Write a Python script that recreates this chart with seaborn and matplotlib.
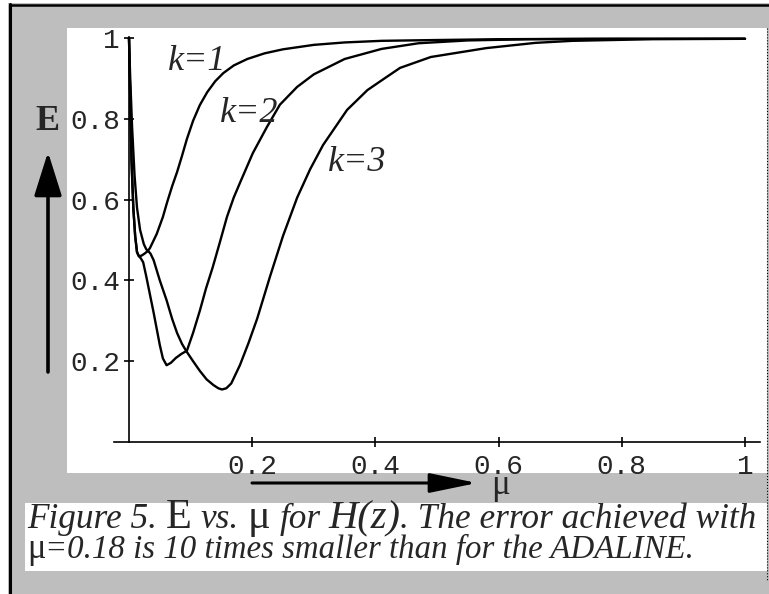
import numpy as np
import pandas as pd
import matplotlib
matplotlib.use('Agg')
import matplotlib.pyplot as plt
import seaborn as sns
from matplotlib.patches import Rectangle
from matplotlib.lines import Line2D

# error E against step size mu
mu_k1 = [0.0, 0.002, 0.004, 0.007, 0.010, 0.013, 0.016, 0.020, 0.025, 0.030, 0.034, 0.045,
         0.055, 0.062, 0.070, 0.078, 0.086, 0.094, 0.104, 0.115, 0.127, 0.140, 0.153, 0.170,
         0.192, 0.22, 0.25, 0.30, 0.35, 0.41, 0.50, 0.60, 0.75, 1.0]
E_k1 = [1.0, 0.85, 0.70, 0.58, 0.51, 0.47, 0.46, 0.461, 0.466, 0.472, 0.48, 0.515,
        0.557, 0.594, 0.633, 0.668, 0.708, 0.75, 0.795, 0.834, 0.866, 0.893, 0.913, 0.932,
        0.948, 0.962, 0.972, 0.983, 0.989, 0.993, 0.995, 0.997, 0.998, 0.998]

mu_k2 = [0.0, 0.002, 0.004, 0.007, 0.010, 0.013, 0.016, 0.019, 0.023, 0.028, 0.034, 0.040,
         0.045, 0.050, 0.055, 0.061, 0.068, 0.076, 0.085, 0.094, 0.104, 0.115, 0.125, 0.136,
         0.148, 0.159, 0.170, 0.180, 0.201, 0.224, 0.245, 0.273, 0.30, 0.35, 0.41, 0.47,
         0.55, 0.65, 0.80, 1.0]
E_k2 = [1.0, 0.85, 0.70, 0.58, 0.51, 0.47, 0.46, 0.455, 0.445, 0.41, 0.365, 0.32,
        0.28, 0.24, 0.207, 0.19, 0.196, 0.208, 0.218, 0.226, 0.27, 0.325, 0.38, 0.433,
        0.497, 0.557, 0.605, 0.641, 0.715, 0.780, 0.835, 0.879, 0.91, 0.948, 0.973, 0.987,
        0.994, 0.997, 0.998, 0.998]

mu_k3 = [0.0, 0.002, 0.005, 0.009, 0.013, 0.018, 0.024, 0.028, 0.031, 0.035, 0.040, 0.050,
         0.061, 0.070, 0.078, 0.086, 0.093, 0.104, 0.115, 0.126, 0.137, 0.145, 0.151, 0.158,
         0.166, 0.180, 0.194, 0.208, 0.229, 0.250, 0.273, 0.294, 0.315, 0.354, 0.387, 0.41,
         0.44, 0.49, 0.58, 0.66, 0.72, 0.85, 1.0]
E_k3 = [1.0, 0.90, 0.78, 0.66, 0.58, 0.525, 0.49, 0.477, 0.473, 0.466, 0.45, 0.40,
        0.351, 0.305, 0.27, 0.243, 0.225, 0.20, 0.176, 0.155, 0.141, 0.133, 0.130, 0.133,
        0.145, 0.19, 0.245, 0.305, 0.41, 0.51, 0.605, 0.675, 0.735, 0.822, 0.871, 0.895,
        0.926, 0.953, 0.975, 0.988, 0.993, 0.997, 0.998]

tick_vals = [0.2, 0.4, 0.6, 0.8, 1.0]
tick_labels = ['0.2', '0.4', '0.6', '0.8', '1']

df = pd.concat([
    pd.DataFrame({'mu': mu_k1, 'E': E_k1, 'k': 'k=1'}),
    pd.DataFrame({'mu': mu_k2, 'E': E_k2, 'k': 'k=2'}),
    pd.DataFrame({'mu': mu_k3, 'E': E_k3, 'k': 'k=3'}),
])

W, H = 769, 594
sns.set_style('white')
fig = plt.figure(figsize=(W / 100, H / 100), dpi=100, facecolor='#bebebe')


def box(x, y, w, h, color):
    # rectangle in pixel coords measured from the top-left corner
    fig.add_artist(Rectangle((x / W, 1 - (y + h) / H), w / W, h / H, transform=fig.transFigure,
                             facecolor=color, edgecolor='none', zorder=-5))


def vline(x, y0, y1, lw=2.0, ls='-'):
    fig.add_artist(Line2D([x / W, x / W], [1 - y0 / H, 1 - y1 / H], transform=fig.transFigure,
                          color='black', lw=lw, ls=ls, zorder=-4))


# page background: white margin, black frame, white plot panel and caption strip
box(0, 0, 8, H, 'white')
box(0, 0, W, 3, 'white')
box(67, 28, 700, 445, 'white')
box(25, 503, 742, 68, 'white')
vline(10, 4, H, lw=2.2)
fig.add_artist(Line2D([10 / W, 1], [1 - 5 / H, 1 - 5 / H], transform=fig.transFigure,
                      color='black', lw=1.8, zorder=-4))
vline(767, 28, 580, lw=0.8, ls=':')

ax = fig.add_axes([113.6 / W, (H - 442) / H, 646.8 / W, 404 * 1.003 / H])
ax.set_facecolor('none')

sns.lineplot(data=df, x='mu', y='E', hue='k', palette=['black'] * 3, legend=False,
             linewidth=1.7, sort=False, estimator=None, ax=ax)
for ln in ax.lines:
    ln.set_clip_on(False)

ax.set_xlim(-0.025, 1.025)
ax.set_ylim(0, 1.003)
ax.spines['left'].set_position(('data', 0))
ax.spines['top'].set_visible(False)
ax.spines['right'].set_visible(False)
for s in ['left', 'bottom']:
    ax.spines[s].set_linewidth(1.2)
    ax.spines[s].set_color('black')

ax.set_xticks(tick_vals)
ax.set_xticklabels(tick_labels, fontfamily='Liberation Mono', fontsize=20)
ax.set_yticks(tick_vals)
ax.set_yticklabels(tick_labels, fontfamily='Liberation Mono', fontsize=20)
ax.tick_params(axis='both', bottom=True, left=True, direction='inout', length=7, width=1.2,
               color='black')
ax.tick_params(axis='x', pad=5)
ax.tick_params(axis='y', pad=3)
ax.set_xlabel('')
ax.set_ylabel('')

serif = 'Liberation Serif'
ax.text(0.110, 0.941, 'k=1', family=serif, style='italic', fontsize=26, ha='center', va='center')
ax.text(0.195, 0.814, 'k=2', family=serif, style='italic', fontsize=26, ha='center', va='center')
ax.text(0.370, 0.691, 'k=3', family=serif, style='italic', fontsize=26, ha='center', va='center')

# axis arrows with E and mu
ax.annotate('', xy=(48, H - 152), xytext=(48, H - 372), xycoords='figure pixels',
            arrowprops=dict(arrowstyle='-|>,head_length=2.7,head_width=0.85', lw=2.6,
                            color='black', mutation_scale=10, shrinkA=0, shrinkB=0))
ax.annotate('', xy=(477, H - 483), xytext=(252, H - 483), xycoords='figure pixels',
            arrowprops=dict(arrowstyle='-|>,head_length=2.9,head_width=0.6', lw=2.2,
                            color='black', mutation_scale=10, shrinkA=0, shrinkB=0))
fig.text(48 / W, 1 - 121 / H, 'E', family=serif, weight='bold', fontsize=26,
         ha='center', va='center')
fig.text(501 / W, 1 - 494 / H, 'μ', family=serif, fontsize=25, ha='center', va='baseline')

# caption, laid out piece by piece and scaled to the width of the original lines
renderer = fig.canvas.get_renderer()


def caption_line(pieces, x, y, target):
    def lay(scale):
        xx, made = x, []
        for txt, size, style, gap in pieces:
            t = fig.text(xx / W, 1 - y / H, txt, family=serif, style=style,
                         fontsize=size * scale, ha='left', va='baseline')
            xx += t.get_window_extent(renderer=renderer).width + gap * scale
            made.append(t)
        return xx - x, made

    width, made = lay(1.0)
    for t in made:
        t.remove()
    lay(target / width)


caption_line([('Figure 5.', 20, 'italic', 7), ('E', 24, 'normal', 7), ('vs.', 20, 'italic', 7),
              ('μ', 24, 'normal', 7), ('for', 20, 'italic', 6), ('H(z)', 23, 'italic', 0),
              ('. The error achieved with', 20, 'italic', 0)], 27, 528, 730)
caption_line([('μ', 21, 'normal', 0),
              ('=0.18 is 10 times smaller than for the ADALINE.', 20, 'italic', 0)], 27, 558, 668)

fig.savefig('out.png', dpi=100, facecolor=fig.get_facecolor())
